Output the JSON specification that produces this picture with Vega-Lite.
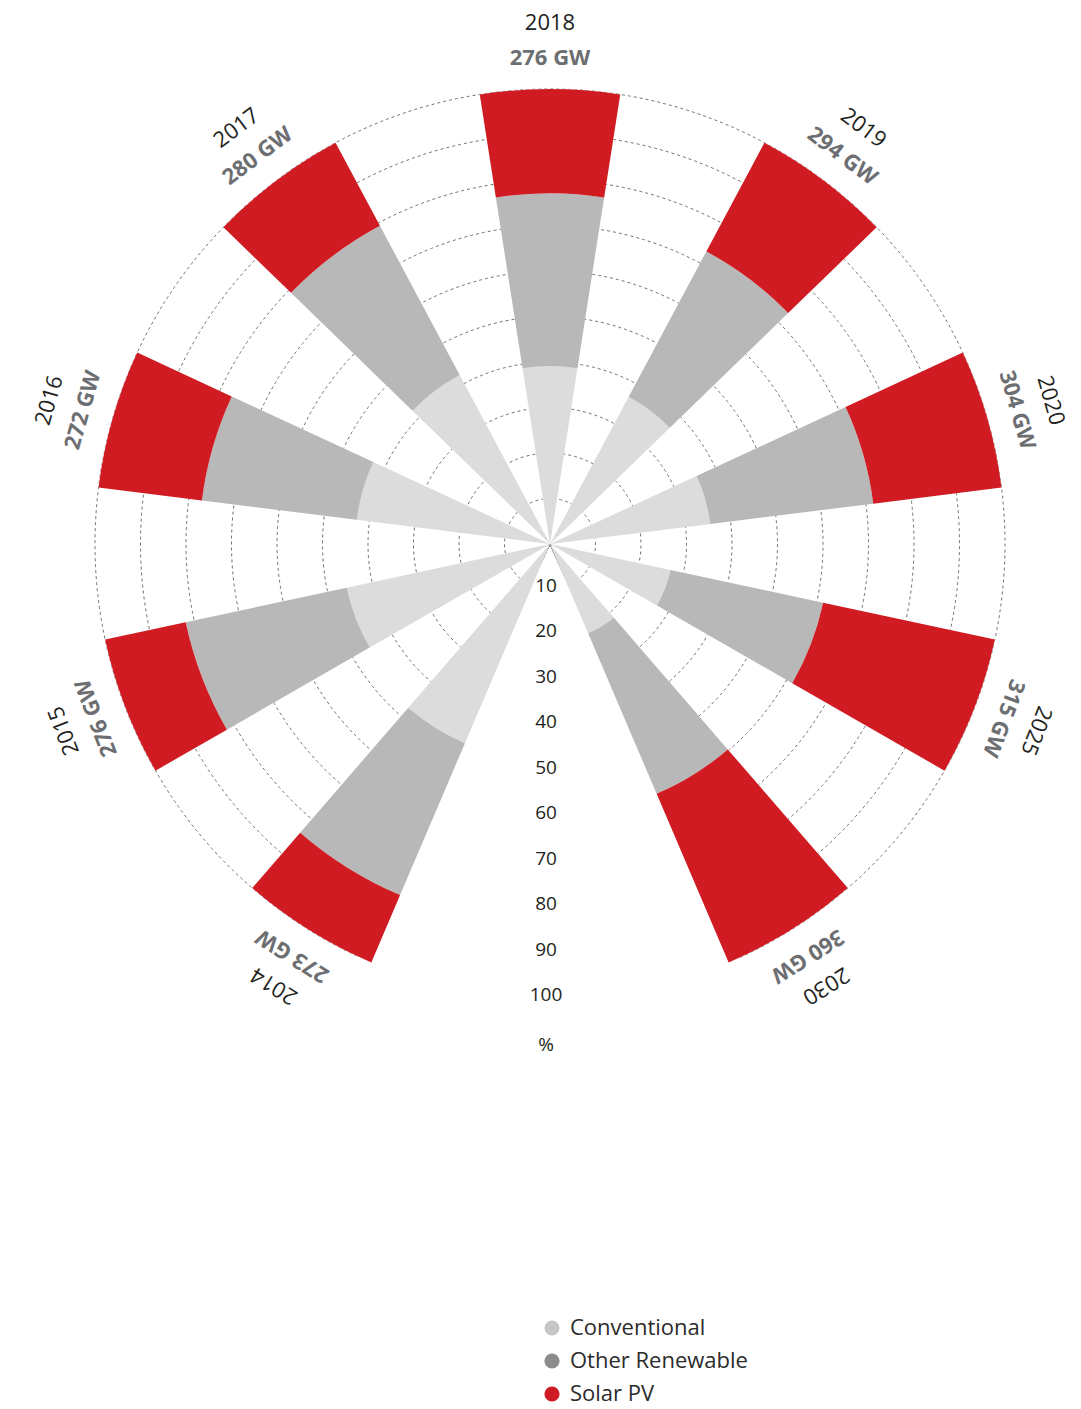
{
  "$schema": "https://vega.github.io/schema/vega-lite/v6.json",
  "width": 1000,
  "height": 1000,
  "autosize": {"type": "none"},
  "padding": {"left": 50, "top": 44, "right": 31, "bottom": 365},
  "background": "white",
  "config": {"view": {"stroke": null}, "font": "Open Sans"},
  "datasets": {
    "shares": [
      {"year": "2014", "type": "Conventional", "share": 47.6},
      {"year": "2014", "type": "Other Renewable", "share": 36.3},
      {"year": "2014", "type": "Solar PV", "share": 16.1},
      {"year": "2015", "type": "Conventional", "share": 45.7},
      {"year": "2015", "type": "Other Renewable", "share": 36.2},
      {"year": "2015", "type": "Solar PV", "share": 18.1},
      {"year": "2016", "type": "Conventional", "share": 42.8},
      {"year": "2016", "type": "Other Renewable", "share": 34.3},
      {"year": "2016", "type": "Solar PV", "share": 22.9},
      {"year": "2017", "type": "Conventional", "share": 42.1},
      {"year": "2017", "type": "Other Renewable", "share": 37.2},
      {"year": "2017", "type": "Solar PV", "share": 20.7},
      {"year": "2018", "type": "Conventional", "share": 39.1},
      {"year": "2018", "type": "Other Renewable", "share": 38.0},
      {"year": "2018", "type": "Solar PV", "share": 22.9},
      {"year": "2019", "type": "Conventional", "share": 36.7},
      {"year": "2019", "type": "Other Renewable", "share": 36.2},
      {"year": "2019", "type": "Solar PV", "share": 27.1},
      {"year": "2020", "type": "Conventional", "share": 35.5},
      {"year": "2020", "type": "Other Renewable", "share": 36.1},
      {"year": "2020", "type": "Solar PV", "share": 28.4},
      {"year": "2025", "type": "Conventional", "share": 27.1},
      {"year": "2025", "type": "Other Renewable", "share": 34.3},
      {"year": "2025", "type": "Solar PV", "share": 38.6},
      {"year": "2030", "type": "Conventional", "share": 21.4},
      {"year": "2030", "type": "Other Renewable", "share": 38.3},
      {"year": "2030", "type": "Solar PV", "share": 40.3}
    ],
    "totals": [
      {"year": "2014", "gw": "273 GW"},
      {"year": "2015", "gw": "276 GW"},
      {"year": "2016", "gw": "272 GW"},
      {"year": "2017", "gw": "280 GW"},
      {"year": "2018", "gw": "276 GW"},
      {"year": "2019", "gw": "294 GW"},
      {"year": "2020", "gw": "304 GW"},
      {"year": "2025", "gw": "315 GW"},
      {"year": "2030", "gw": "360 GW"}
    ],
    "ticks": [
      {"value": 10}, {"value": 20}, {"value": 30}, {"value": 40}, {"value": 50},
      {"value": 60}, {"value": 70}, {"value": 80}, {"value": 90}, {"value": 100}
    ]
  },
  "layer": [
    {
      "data": {"name": "ticks"},
      "mark": {"type": "arc", "filled": false, "stroke": "#707070", "strokeWidth": 1, "strokeDash": [3, 3], "theta": 3.58, "theta2": 9.0},
      "encoding": {
        "radius": {"field": "value", "type": "quantitative", "stack": null, "scale": {"type": "linear", "domain": [0, 100], "range": [0, 455], "zero": true}}
      }
    },
    {
      "data": {"name": "shares"},
      "mark": {"type": "arc", "strokeWidth": 0, "fill": "#ffffff"},
      "encoding": {
        "theta": {"field": "year", "type": "nominal", "scale": {"type": "band", "domain": ["2014", "2015", "2016", "2017", "2018", "2019", "2020", "2025", "2030"], "range": [3.3772, 9.1892], "paddingInner": 0.52, "paddingOuter": 0.26}},
        "radius": {"field": "share", "type": "quantitative", "stack": "zero", "scale": {"type": "linear", "domain": [0, 100], "range": [0, 455], "zero": true}},
        "order": {"field": "type", "type": "nominal", "sort": "ascending"}
      }
    },
    {
      "data": {"name": "shares"},
      "mark": {"type": "arc", "strokeWidth": 0},
      "encoding": {
        "theta": {"field": "year", "type": "nominal", "scale": {"type": "band", "domain": ["2014", "2015", "2016", "2017", "2018", "2019", "2020", "2025", "2030"], "range": [3.3772, 9.1892], "paddingInner": 0.52, "paddingOuter": 0.26}},
        "radius": {"field": "share", "type": "quantitative", "stack": "zero", "scale": {"type": "linear", "domain": [0, 100], "range": [0, 455], "zero": true}},
        "color": {
          "field": "type", "type": "nominal",
          "scale": {"domain": ["Conventional", "Other Renewable", "Solar PV"], "range": ["#c6c6c6", "#8b8b8e", "#cf1b21"]},
          "legend": {"title": null, "orient": "none", "legendX": 491, "legendY": 1273, "direction": "vertical", "symbolType": "circle", "symbolSize": 230, "symbolStrokeWidth": 0, "labelFontSize": 22, "labelFont": "Open Sans", "labelColor": "#2b2b2b", "labelLimit": 400, "rowPadding": 11, "labelOffset": 7, "padding": 0}
        },
        "opacity": {"condition": {"test": "datum.type !== 'Solar PV'", "value": 0.615}, "value": 1},
        "order": {"field": "type", "type": "nominal", "sort": "ascending"}
      }
    },
    {
      "data": {"name": "totals"},
      "mark": {"type": "text", "fontSize": 22, "color": "#231f20", "align": "center", "baseline": "middle", "font": "Open Sans"},
      "encoding": {
        "theta": {"field": "year", "type": "nominal", "bandPosition": 0.5, "scale": {"type": "band", "domain": ["2014", "2015", "2016", "2017", "2018", "2019", "2020", "2025", "2030"], "range": [3.3772, 9.1892], "paddingInner": 0.52, "paddingOuter": 0.26}},
        "radius": {"datum": 114.5, "type": "quantitative"},
        "angle": {"field": "year", "type": "nominal", "legend": null, "scale": {"type": "point", "domain": ["2014", "2015", "2016", "2017", "2018", "2019", "2020", "2025", "2030"], "range": [212, 508], "padding": 0}},
        "text": {"field": "year"}
      }
    },
    {
      "data": {"name": "totals"},
      "mark": {"type": "text", "fontSize": 22, "fontWeight": "bold", "color": "#6d6e71", "align": "center", "baseline": "middle", "font": "Open Sans"},
      "encoding": {
        "theta": {"field": "year", "type": "nominal", "bandPosition": 0.5, "scale": {"type": "band", "domain": ["2014", "2015", "2016", "2017", "2018", "2019", "2020", "2025", "2030"], "range": [3.3772, 9.1892], "paddingInner": 0.52, "paddingOuter": 0.26}},
        "radius": {"datum": 106.8, "type": "quantitative"},
        "angle": {"field": "year", "type": "nominal", "legend": null, "scale": {"type": "point", "domain": ["2014", "2015", "2016", "2017", "2018", "2019", "2020", "2025", "2030"], "range": [212, 508], "padding": 0}},
        "text": {"field": "gw"}
      }
    },
    {
      "data": {"name": "ticks"},
      "mark": {"type": "text", "fontSize": 19, "color": "#231f20", "align": "center", "baseline": "middle", "theta": 3.14159, "dx": -4, "dy": -4, "font": "Open Sans"},
      "encoding": {
        "radius": {"field": "value", "type": "quantitative", "stack": null},
        "text": {"field": "value", "type": "quantitative", "format": "d"}
      }
    },
    {
      "data": {"values": [{"label": "%"}]},
      "mark": {"type": "text", "fontSize": 19, "color": "#231f20", "align": "center", "baseline": "middle", "theta": 3.14159, "dx": -4, "dy": -4, "font": "Open Sans"},
      "encoding": {
        "radius": {"datum": 111, "type": "quantitative"},
        "text": {"field": "label"}
      }
    }
  ]
}
